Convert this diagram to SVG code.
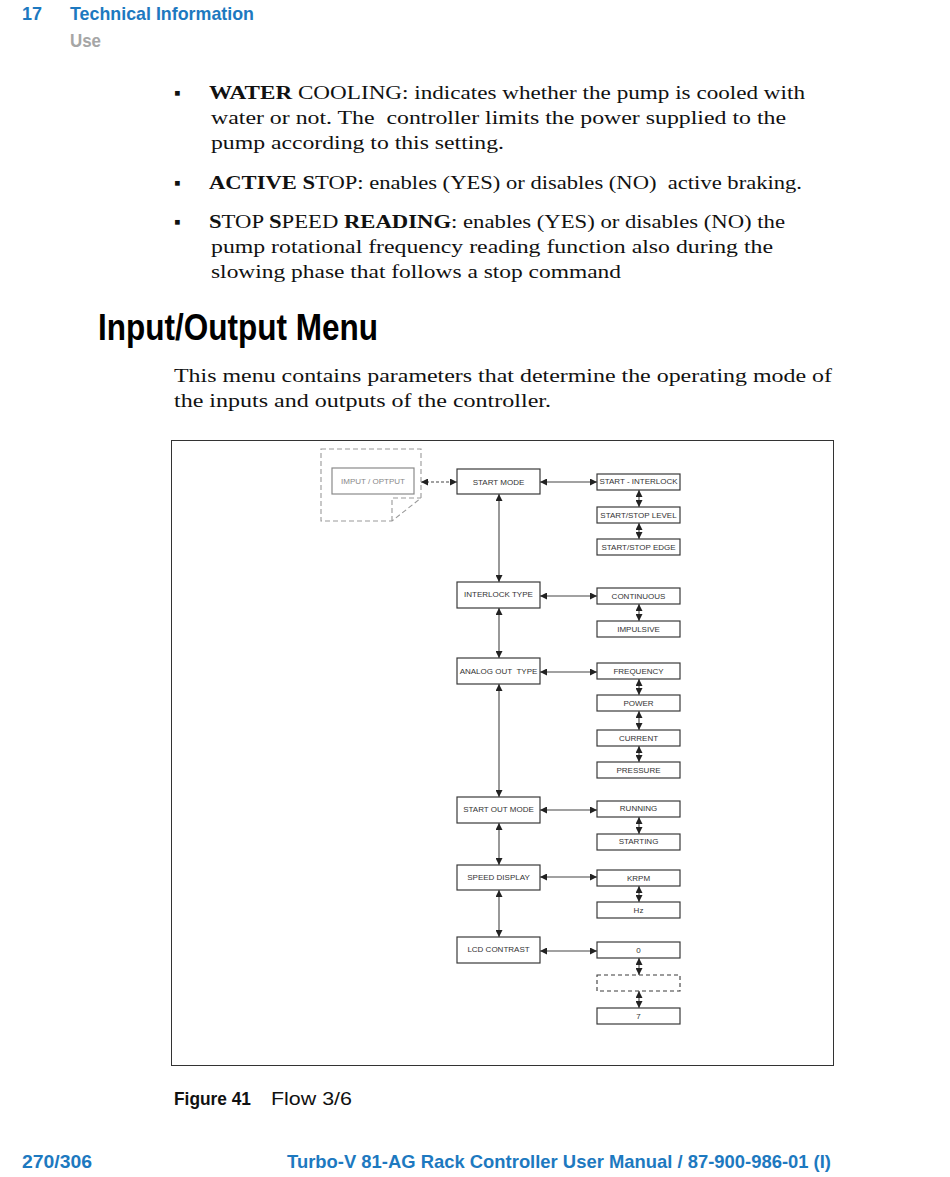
<svg xmlns="http://www.w3.org/2000/svg" width="950" height="1177" viewBox="0 0 950 1177">
<style>
.hd{font-family:"Liberation Sans",Arial,sans-serif;font-weight:bold;fill:#1d79c0}
.sub{font-family:"Liberation Sans",Arial,sans-serif;font-weight:bold;fill:#a6a6a6}
.body{font-family:"Liberation Serif","Times New Roman",serif;font-size:19px;fill:#111}
.b{font-weight:bold}
.h1{font-family:"Liberation Sans",Arial,sans-serif;font-weight:bold;font-size:37px;fill:#000}
.cap{font-family:"Liberation Sans",Arial,sans-serif;font-size:19px;fill:#111}
.box{fill:#fff;stroke:#3a3a3a;stroke-width:1.2}
.lbl{font-family:"Liberation Sans",Arial,sans-serif;font-size:8px;fill:#333;text-anchor:middle}
.con{stroke:#444;stroke-width:1.1;fill:none;marker-start:url(#ah);marker-end:url(#ah)}
.gray{fill:none;stroke:#999;stroke-width:1.1;stroke-dasharray:5,3}
</style>
<defs>
<marker id="ah" viewBox="0 0 8 8" refX="8" refY="4" markerWidth="7" markerHeight="7" markerUnits="userSpaceOnUse" orient="auto-start-reverse">
<path d="M0,0 L8,4 L0,8 Z" fill="#222"/>
</marker>
</defs>
<rect width="950" height="1177" fill="#fff"/>

<!-- header -->
<text class="hd" x="22" y="20" font-size="19" textLength="20" lengthAdjust="spacingAndGlyphs">17</text>
<text class="hd" x="70" y="20" font-size="19" textLength="184" lengthAdjust="spacingAndGlyphs">Technical Information</text>
<text class="sub" x="70" y="47" font-size="19" textLength="31" lengthAdjust="spacingAndGlyphs">Use</text>

<!-- bullet list -->
<text class="body" x="174" y="99" font-family="DejaVu Sans,sans-serif" font-size="11">▪</text>
<text class="body" x="209" y="99" textLength="596" lengthAdjust="spacingAndGlyphs"><tspan class="b">WATER</tspan> COOLING: indicates whether the pump is cooled with</text>
<text class="body" x="211" y="124" textLength="575" lengthAdjust="spacingAndGlyphs">water or not. The&#160; controller limits the power supplied to the</text>
<text class="body" x="211" y="149" textLength="293" lengthAdjust="spacingAndGlyphs">pump according to this setting.</text>
<text class="body" x="174" y="189" font-family="DejaVu Sans,sans-serif" font-size="11">▪</text>
<text class="body" x="209" y="189" textLength="593" lengthAdjust="spacingAndGlyphs"><tspan class="b">ACTIVE S</tspan>TOP: enables (YES) or disables (NO)&#160; active braking.</text>
<text class="body" x="174" y="228" font-family="DejaVu Sans,sans-serif" font-size="11">▪</text>
<text class="body" x="209" y="228" textLength="576" lengthAdjust="spacingAndGlyphs"><tspan class="b">S</tspan>TOP <tspan class="b">S</tspan>PEED <tspan class="b">READING</tspan>: enables (YES) or disables (NO) the</text>
<text class="body" x="211" y="253" textLength="562" lengthAdjust="spacingAndGlyphs">pump rotational frequency reading function also during the</text>
<text class="body" x="211" y="278" textLength="410" lengthAdjust="spacingAndGlyphs">slowing phase that follows a stop command</text>

<!-- heading -->
<text class="h1" x="98" y="340" textLength="280" lengthAdjust="spacingAndGlyphs">Input/Output Menu</text>
<text class="body" x="174" y="382" textLength="658" lengthAdjust="spacingAndGlyphs">This menu contains parameters that determine the operating mode of</text>
<text class="body" x="174" y="407" textLength="377" lengthAdjust="spacingAndGlyphs">the inputs and outputs of the controller.</text>

<!-- figure frame -->
<rect x="171.5" y="440.5" width="662" height="625" fill="none" stroke="#333" stroke-width="1"/>

<!-- connectors -->
<g id="connectors">
<line class="con" x1="421" y1="482" x2="457" y2="482" stroke-dasharray="3,2"/>
<line class="con" x1="540" y1="482" x2="597" y2="482"/>
<line class="con" x1="540" y1="596" x2="597" y2="596"/>
<line class="con" x1="540" y1="672" x2="597" y2="672"/>
<line class="con" x1="540" y1="810" x2="597" y2="810"/>
<line class="con" x1="540" y1="877" x2="597" y2="877"/>
<line class="con" x1="540" y1="951" x2="597" y2="951"/>
<line class="con" x1="499" y1="494" x2="499" y2="582"/>
<line class="con" x1="499" y1="608" x2="499" y2="658"/>
<line class="con" x1="499" y1="684" x2="499" y2="797"/>
<line class="con" x1="499" y1="823" x2="499" y2="865"/>
<line class="con" x1="499" y1="890" x2="499" y2="937"/>
<line class="con" x1="639" y1="490" x2="639" y2="507"/>
<line class="con" x1="639" y1="523" x2="639" y2="539"/>
<line class="con" x1="639" y1="604" x2="639" y2="621"/>
<line class="con" x1="639" y1="679" x2="639" y2="695"/>
<line class="con" x1="639" y1="711" x2="639" y2="730"/>
<line class="con" x1="639" y1="746" x2="639" y2="762"/>
<line class="con" x1="639" y1="817" x2="639" y2="834"/>
<line class="con" x1="639" y1="886" x2="639" y2="902"/>
<line class="con" x1="639" y1="958" x2="639" y2="975"/>
<line class="con" x1="639" y1="991" x2="639" y2="1008"/>
</g>

<!-- IMPUT / OPTPUT document -->
<g id="n-imput">
<path class="gray" d="M321,449 H421 V498 L392,521 H321 Z"/>
<path class="gray" d="M392,521 V498 H421"/>
<rect x="332" y="468" width="82" height="26" fill="#fff" stroke="#8a8a8a" stroke-width="1.2"/>
<text class="lbl" x="373" y="484" style="fill:#888">IMPUT / OPTPUT</text>
</g>

<!-- left column -->
<g id="n-startmode"><rect class="box" x="457" y="469" width="83" height="25"/><text class="lbl" x="498.5" y="485">START MODE</text></g>
<g id="n-interlocktype"><rect class="box" x="457" y="582" width="83" height="26"/><text class="lbl" x="498.5" y="597">INTERLOCK TYPE</text></g>
<g id="n-analogout"><rect class="box" x="457" y="658" width="83" height="26"/><text class="lbl" x="498.5" y="674">ANALOG OUT&#160; TYPE</text></g>
<g id="n-startout"><rect class="box" x="457" y="797" width="83" height="26"/><text class="lbl" x="498.5" y="812">START OUT MODE</text></g>
<g id="n-speeddisplay"><rect class="box" x="457" y="865" width="83" height="25"/><text class="lbl" x="498.5" y="880">SPEED DISPLAY</text></g>
<g id="n-lcd"><rect class="box" x="457" y="937" width="83" height="26"/><text class="lbl" x="498.5" y="952">LCD CONTRAST</text></g>

<!-- right column -->
<g id="n-startinterlock"><rect class="box" x="597" y="474" width="83" height="16"/><text class="lbl" x="638.5" y="484">START - INTERLOCK</text></g>
<g id="n-ssl"><rect class="box" x="597" y="507" width="83" height="16"/><text class="lbl" x="638.5" y="518">START/STOP LEVEL</text></g>
<g id="n-sse"><rect class="box" x="597" y="539" width="83" height="16"/><text class="lbl" x="638.5" y="550">START/STOP EDGE</text></g>
<g id="n-continuous"><rect class="box" x="597" y="588" width="83" height="16"/><text class="lbl" x="638.5" y="599">CONTINUOUS</text></g>
<g id="n-impulsive"><rect class="box" x="597" y="621" width="83" height="16"/><text class="lbl" x="638.5" y="632">IMPULSIVE</text></g>
<g id="n-frequency"><rect class="box" x="597" y="663" width="83" height="16"/><text class="lbl" x="638.5" y="674">FREQUENCY</text></g>
<g id="n-power"><rect class="box" x="597" y="695" width="83" height="16"/><text class="lbl" x="638.5" y="706">POWER</text></g>
<g id="n-current"><rect class="box" x="597" y="730" width="83" height="16"/><text class="lbl" x="638.5" y="741">CURRENT</text></g>
<g id="n-pressure"><rect class="box" x="597" y="762" width="83" height="16"/><text class="lbl" x="638.5" y="773">PRESSURE</text></g>
<g id="n-running"><rect class="box" x="597" y="801" width="83" height="16"/><text class="lbl" x="638.5" y="811">RUNNING</text></g>
<g id="n-starting"><rect class="box" x="597" y="834" width="83" height="16"/><text class="lbl" x="638.5" y="844">STARTING</text></g>
<g id="n-krpm"><rect class="box" x="597" y="870" width="83" height="16"/><text class="lbl" x="638.5" y="881">KRPM</text></g>
<g id="n-hz"><rect class="box" x="597" y="902" width="83" height="16"/><text class="lbl" x="638.5" y="913">Hz</text></g>
<g id="n-0"><rect class="box" x="597" y="942" width="83" height="16"/><text class="lbl" x="638.5" y="953">0</text></g>
<g id="n-dots"><rect x="597" y="975" width="83" height="16" fill="#fff" stroke="#3a3a3a" stroke-width="1.1" stroke-dasharray="4,3"/></g>
<g id="n-7"><rect class="box" x="597" y="1008" width="83" height="16"/><text class="lbl" x="638.5" y="1019">7</text></g>

<!-- caption -->
<text class="cap" x="174" y="1105" font-weight="bold" textLength="77" lengthAdjust="spacingAndGlyphs">Figure 41</text>
<text class="cap" x="271" y="1105" textLength="81" lengthAdjust="spacingAndGlyphs">Flow 3/6</text>

<!-- footer -->
<text class="hd" x="22" y="1168" font-size="19" textLength="70" lengthAdjust="spacingAndGlyphs">270/306</text>
<text class="hd" x="287" y="1168" font-size="19" textLength="544" lengthAdjust="spacingAndGlyphs">Turbo-V 81-AG Rack Controller User Manual / 87-900-986-01 (I)</text>
</svg>
